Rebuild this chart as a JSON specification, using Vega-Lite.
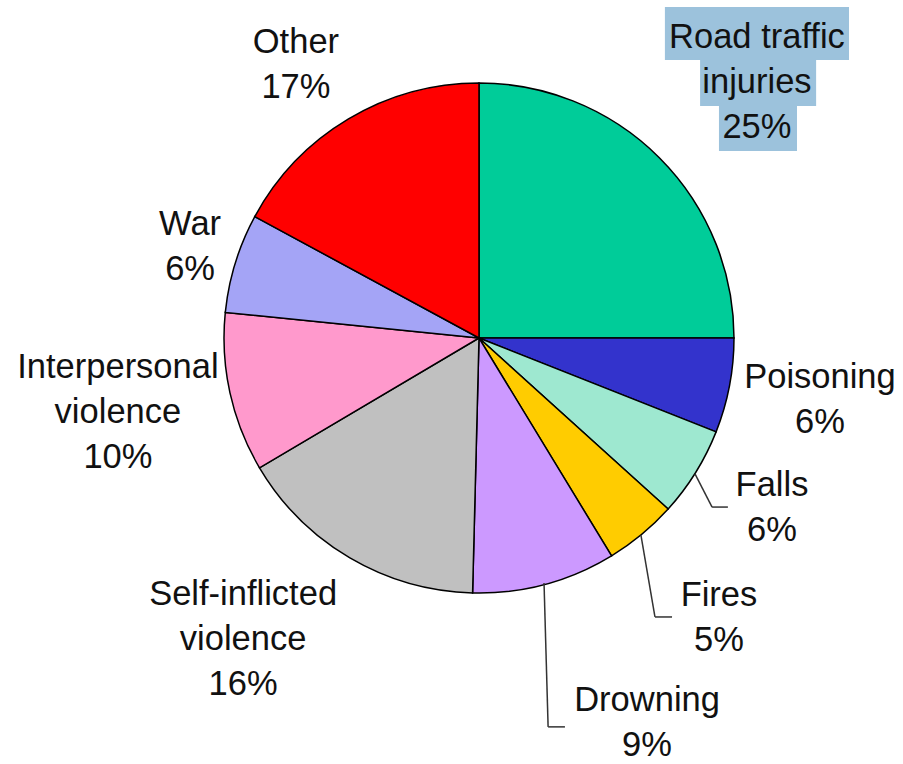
{
  "$schema": "https://vega.github.io/schema/vega-lite/v6.json",
  "width": 903,
  "height": 764,
  "autosize": {"type": "none"},
  "padding": 0,
  "background": "white",
  "config": {"view": {"stroke": null}},
  "datasets": {
    "slices": [
      {"cause": "Road traffic injuries", "value": 25, "order": 1},
      {"cause": "Poisoning", "value": 6.0, "order": 2},
      {"cause": "Falls", "value": 5.7, "order": 3},
      {"cause": "Fires", "value": 4.6, "order": 4},
      {"cause": "Drowning", "value": 9.1, "order": 5},
      {"cause": "Self-inflicted violence", "value": 16.1, "order": 6},
      {"cause": "Interpersonal violence", "value": 10.1, "order": 7},
      {"cause": "War", "value": 6.3, "order": 8},
      {"cause": "Other", "value": 17.1, "order": 9}
    ],
    "labels": [
      {"text": "Road traffic\ninjuries\n25%", "u": 1.090, "v": 1.137},
      {"text": "Poisoning\n6%", "u": 1.337, "v": -0.196},
      {"text": "Falls\n6%", "u": 1.149, "v": -0.620},
      {"text": "Fires\n5%", "u": 0.941, "v": -1.051},
      {"text": "Drowning\n9%", "u": 0.659, "v": -1.461},
      {"text": "Self-inflicted\nviolence\n16%", "u": -0.925, "v": -1.047},
      {"text": "Interpersonal\nviolence\n10%", "u": -1.416, "v": -0.157},
      {"text": "War\n6%", "u": -1.133, "v": 0.404},
      {"text": "Other\n17%", "u": -0.718, "v": 1.118}
    ],
    "leaders": [
      {"u": 0.847, "v": -0.533, "u2": 0.914, "v2": -0.663},
      {"u": 0.914, "v": -0.663, "u2": 0.976, "v2": -0.663},
      {"u": 0.635, "v": -0.773, "u2": 0.690, "v2": -1.094},
      {"u": 0.690, "v": -1.094, "u2": 0.757, "v2": -1.094},
      {"u": 0.255, "v": -0.961, "u2": 0.271, "v2": -1.525},
      {"u": 0.271, "v": -1.525, "u2": 0.337, "v2": -1.525}
    ],
    "highlight": [
      {"u": 0.729, "u2": 1.451, "v": 1.298, "v2": 1.090},
      {"u": 0.867, "u2": 1.322, "v": 1.090, "v2": 0.910},
      {"u": 0.941, "u2": 1.247, "v": 0.910, "v2": 0.733}
    ]
  },
  "layer": [
    {
      "data": {"name": "highlight"},
      "mark": {"type": "rect", "color": "#9CC2DC"},
      "encoding": {
        "x": {"field": "u", "type": "quantitative", "scale": {"domain": [-1.8784, 1.6627], "nice": false, "zero": false}, "axis": null},
        "x2": {"field": "u2"},
        "y": {"field": "v", "type": "quantitative", "scale": {"domain": [-1.6706, 1.3255], "nice": false, "zero": false}, "axis": null},
        "y2": {"field": "v2"}
      }
    },
    {
      "data": {"name": "slices"},
      "mark": {"type": "arc", "outerRadius": 255, "stroke": "#000000", "strokeWidth": 1.5},
      "encoding": {
        "x": {"datum": 0, "type": "quantitative"},
        "y": {"datum": 0, "type": "quantitative"},
        "theta": {"field": "value", "type": "quantitative", "stack": true},
        "order": {"field": "order", "type": "quantitative"},
        "color": {
          "field": "cause",
          "type": "nominal",
          "legend": null,
          "scale": {
            "domain": ["Road traffic injuries", "Poisoning", "Falls", "Fires", "Drowning", "Self-inflicted violence", "Interpersonal violence", "War", "Other"],
            "range": ["#00CC99", "#3333CC", "#9EE8D0", "#FFCC00", "#CC99FF", "#C0C0C0", "#FF99CC", "#A4A4F6", "#FF0000"]
          }
        }
      }
    },
    {
      "data": {"name": "leaders"},
      "mark": {"type": "rule", "color": "#333333", "strokeWidth": 1.5},
      "encoding": {
        "x": {"field": "u", "type": "quantitative"},
        "x2": {"field": "u2"},
        "y": {"field": "v", "type": "quantitative"},
        "y2": {"field": "v2"}
      }
    },
    {
      "data": {"name": "labels"},
      "mark": {"type": "text", "font": "Liberation Sans", "fontSize": 34.5, "lineHeight": 45, "lineBreak": "\n", "align": "center", "baseline": "alphabetic", "color": "#111111"},
      "encoding": {
        "x": {"field": "u", "type": "quantitative"},
        "y": {"field": "v", "type": "quantitative"},
        "text": {"field": "text", "type": "nominal"}
      }
    }
  ]
}
